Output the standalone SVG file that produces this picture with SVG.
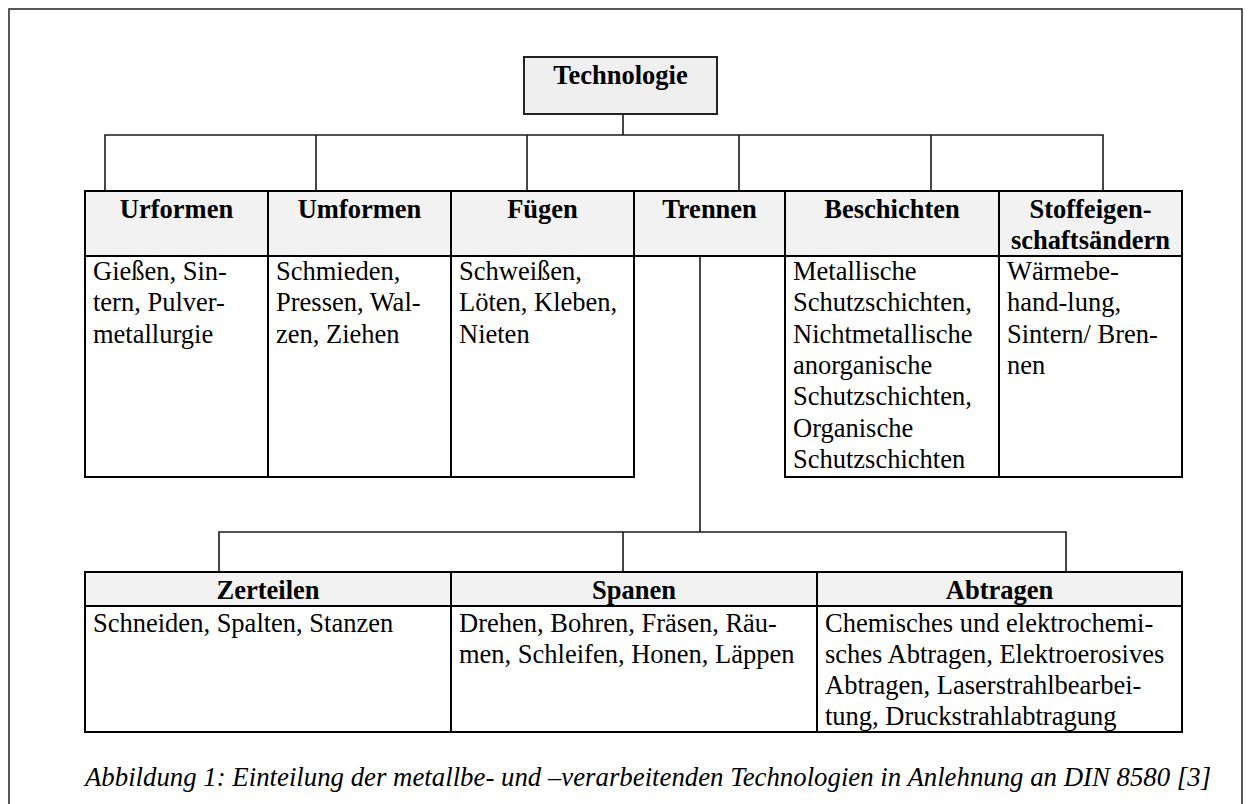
<svg xmlns="http://www.w3.org/2000/svg" width="1251" height="804" viewBox="0 0 1251 804">
<style>
.hd{fill:#f2f2f2;stroke:#000;stroke-width:2}
.bd{fill:#fff;stroke:#000;stroke-width:2}
.root{fill:#efefef;stroke:#222;stroke-width:2}
.t{font-family:"Liberation Serif","Times New Roman",serif;font-size:26.5px;fill:#000}
.b{font-weight:bold;text-anchor:middle}
.cap{font-style:italic;font-size:26.8px}
.c{fill:none;stroke:#1a1a1a;stroke-width:1.6}
</style>
<rect width="1251" height="804" fill="#fff"/>
<path id="frame" d="M9,812 V9 H1242 V812" fill="none" stroke="#222" stroke-width="1.5"/>

<g id="connectors" class="c">
<path d="M623,114 V135"/>
<path d="M105,191 V135 H1103 V191"/>
<path d="M316,135 V191"/>
<path d="M527,135 V191"/>
<path d="M739,135 V191"/>
<path d="M931,135 V191"/>
<path d="M700,256 V532"/>
<path d="M219,572 V532 H1066 V572"/>
<path d="M623,532 V572"/>
</g>

<g id="node-technologie">
<rect class="root" x="524" y="57" width="193" height="57"/>
<text class="t b" x="620.5" y="84">Technologie</text>
</g>

<g id="node-urformen">
<rect class="hd" x="85" y="191" width="183" height="65"/>
<rect class="bd" x="85" y="256" width="183" height="221"/>
<text class="t b" x="176.5" y="218">Urformen</text>
<text class="t" x="93"><tspan x="93" y="280">Gießen, Sin-</tspan><tspan x="93" y="311">tern, Pulver-</tspan><tspan x="93" y="343">metallurgie</tspan></text>
</g>

<g id="node-umformen">
<rect class="hd" x="268" y="191" width="183" height="65"/>
<rect class="bd" x="268" y="256" width="183" height="221"/>
<text class="t b" x="359.5" y="218">Umformen</text>
<text class="t"><tspan x="276" y="280">Schmieden,</tspan><tspan x="276" y="311">Pressen, Wal-</tspan><tspan x="276" y="343">zen, Ziehen</tspan></text>
</g>

<g id="node-fuegen">
<rect class="hd" x="451" y="191" width="183" height="65"/>
<rect class="bd" x="451" y="256" width="183" height="221"/>
<text class="t b" x="542.5" y="218">Fügen</text>
<text class="t"><tspan x="459" y="280">Schweißen,</tspan><tspan x="459" y="311">Löten, Kleben,</tspan><tspan x="459" y="343">Nieten</tspan></text>
</g>

<g id="node-trennen">
<rect class="hd" x="634" y="191" width="151" height="65"/>
<text class="t b" x="709.5" y="218">Trennen</text>
</g>

<g id="node-beschichten">
<rect class="hd" x="785" y="191" width="214" height="65"/>
<rect class="bd" x="785" y="256" width="214" height="221"/>
<text class="t b" x="892" y="218">Beschichten</text>
<text class="t"><tspan x="793" y="280">Metallische</tspan><tspan x="793" y="311">Schutzschichten,</tspan><tspan x="793" y="343">Nichtmetallische</tspan><tspan x="793" y="374">anorganische</tspan><tspan x="793" y="405">Schutzschichten,</tspan><tspan x="793" y="437">Organische</tspan><tspan x="793" y="468">Schutzschichten</tspan></text>
</g>

<g id="node-stoffeigenschaftsaendern">
<rect class="hd" x="999" y="191" width="183" height="65"/>
<rect class="bd" x="999" y="256" width="183" height="221"/>
<text class="t b"><tspan x="1090.5" y="218">Stoffeigen-</tspan><tspan x="1090.5" y="249">schaftsändern</tspan></text>
<text class="t"><tspan x="1007" y="280">Wärmebe-</tspan><tspan x="1007" y="311">hand-lung,</tspan><tspan x="1007" y="343">Sintern/ Bren-</tspan><tspan x="1007" y="374">nen</tspan></text>
</g>

<g id="node-zerteilen">
<rect class="hd" x="85" y="572" width="366" height="34"/>
<rect class="bd" x="85" y="606" width="366" height="126"/>
<text class="t b" x="268" y="599">Zerteilen</text>
<text class="t" x="93" y="632">Schneiden, Spalten, Stanzen</text>
</g>

<g id="node-spanen">
<rect class="hd" x="451" y="572" width="366" height="34"/>
<rect class="bd" x="451" y="606" width="366" height="126"/>
<text class="t b" x="634" y="599">Spanen</text>
<text class="t"><tspan x="459" y="632">Drehen, Bohren, Fräsen, Räu-</tspan><tspan x="459" y="663">men, Schleifen, Honen, Läppen</tspan></text>
</g>

<g id="node-abtragen">
<rect class="hd" x="817" y="572" width="365" height="34"/>
<rect class="bd" x="817" y="606" width="365" height="126"/>
<text class="t b" x="999.5" y="599">Abtragen</text>
<text class="t"><tspan x="825" y="632">Chemisches und elektrochemi-</tspan><tspan x="825" y="663">sches Abtragen, Elektroerosives</tspan><tspan x="825" y="694">Abtragen, Laserstrahlbearbei-</tspan><tspan x="825" y="725">tung, Druckstrahlabtragung</tspan></text>
</g>

<text id="caption" class="t cap" x="85" y="786">Abbildung 1: Einteilung der metallbe- und –verarbeitenden Technologien in Anlehnung an DIN 8580 [3]</text>
</svg>
